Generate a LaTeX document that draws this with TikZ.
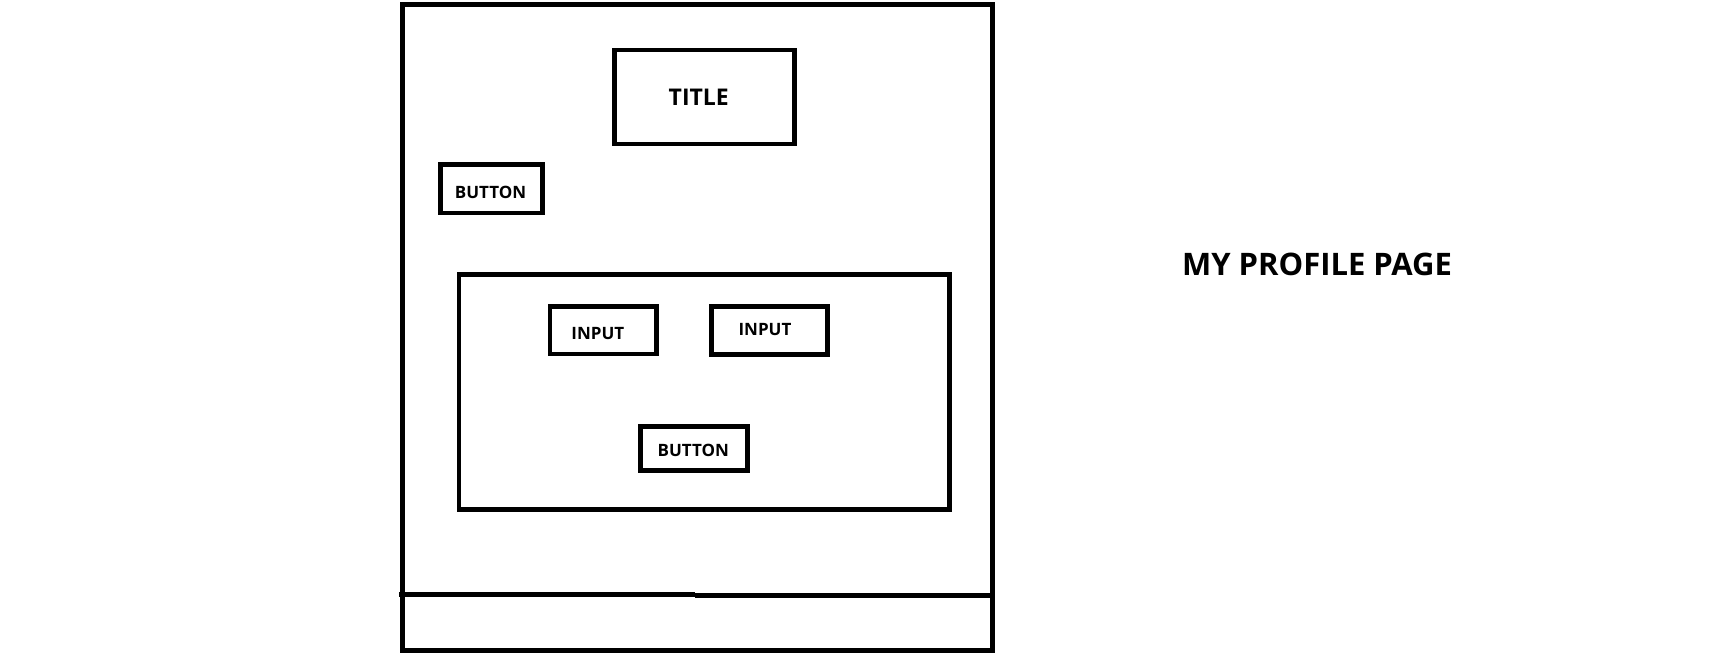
\documentclass[tikz,border=0pt]{standalone}
\usepackage{fontspec}
\setmainfont{Open Sans}
\begin{document}
\begin{tikzpicture}[x=1pt,y=-1pt,
  box/.style={draw=black,line width=4.67pt,rectangle,inner sep=0pt,outer sep=0pt},
  lbl/.style={inner sep=0pt,font=\bfseries\fontsize{17}{17}\selectfont},
  rule/.style={draw=black,line width=4.67pt,line cap=butt}]
\useasboundingbox[fill=white] (0,0) rectangle (1733,657);
% outer frame
\node[box,minimum width=589.6pt,minimum height=646pt] (frame) at (697.5,327.3) {};
% title
\node[box,minimum width=179.6pt,minimum height=94pt] (titlebox) at (704.5,97) {};
\node[lbl,font=\bfseries\fontsize{23}{23}\selectfont] (titletext) at (698.8,97) {TITLE};
% top button
\node[box,minimum width=101.6pt,minimum height=48.5pt] (btnone) at (491.5,188.75) {};
\node[lbl] (btnonetext) at (490.5,192.5) {BUTTON};
% form
\node[box,minimum width=490.3pt,minimum height=234.6pt] (form) at (704.15,392) {};
\node[box,minimum width=106.3pt,minimum height=47.3pt] (inone) at (603.15,330.35) {};
\node[lbl] (inonetext) at (597.8,333.7) {INPUT};
\node[box,minimum width=116pt,minimum height=48pt] (intwo) at (769.7,330.7) {};
\node[lbl] (intwotext) at (765,330) {INPUT};
\node[box,minimum width=106.6pt,minimum height=44pt] (btntwo) at (694,448.7) {};
\node[lbl] (btntwotext) at (693.3,450.8) {BUTTON};
% footer rule
\coordinate (ra) at (399,594.5);
\coordinate (rb) at (695,594.5);
\coordinate (rc) at (695,595.5);
\coordinate (rd) at (992.3,595.5);
\draw[rule] (ra) -- (rb);
\draw[rule] (rc) -- (rd);
% caption
\node[lbl,font=\bfseries\fontsize{31}{31}\selectfont] (caption) at (1317,264.2) {MY PROFILE PAGE};
\end{tikzpicture}
\end{document}
